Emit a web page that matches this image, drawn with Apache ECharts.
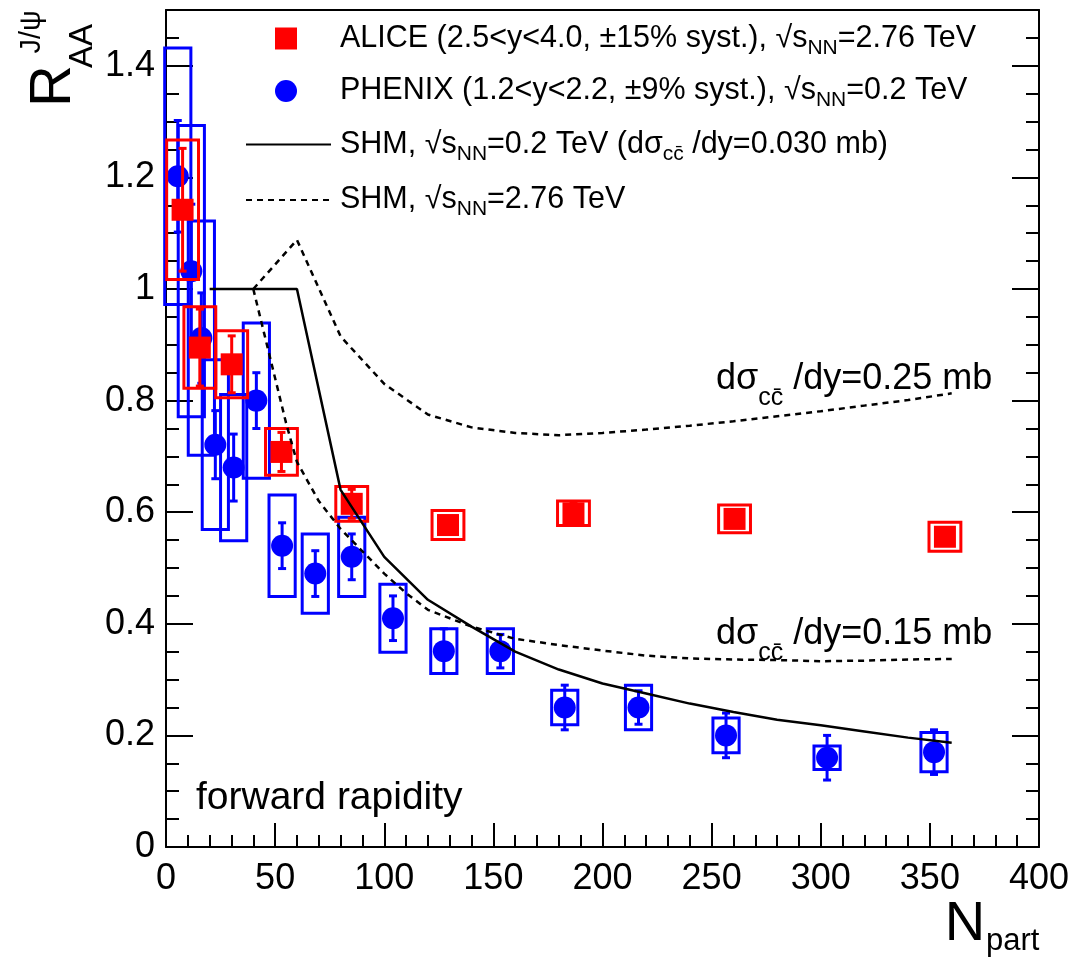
<!DOCTYPE html>
<html>
<head>
<meta charset="utf-8">
<script src="https://cdn.jsdelivr.net/npm/echarts@6/dist/echarts.min.js"></script>
<style>
html, body { margin: 0; padding: 0; background: #fff; }
#chart { width: 1092px; height: 962px; }
</style>
</head>
<body>
<div id="chart"></div>
<script>
// ALICE, Pb-Pb 2.76 TeV, forward
var aliceN    = [7.6, 15.5, 30.1, 52.9, 85.1, 129.2, 186.7, 260.5, 356.9];
var aliceR    = [1.142, 0.895, 0.865, 0.708, 0.615, 0.577, 0.598, 0.588, 0.556];
var aliceStat = [0.11, 0.069, 0.051, 0.035, 0.026, 0.015, 0.02, 0.015, 0.015];
var aliceSys  = [0.125, 0.073, 0.06, 0.042, 0.031, 0.026, 0.022, 0.025, 0.026];

// PHENIX, Au-Au 0.2 TeV, forward
var phenixN    = [5.4, 11.6, 16.2, 22.6, 31.0, 41.4, 53.2, 68.4, 85.1, 104.0, 127.3, 153.2, 182.7, 216.5, 256.6, 302.9, 351.9];
var phenixR    = [1.202, 1.032, 0.912, 0.721, 0.680, 0.800, 0.540, 0.490, 0.520, 0.410, 0.351, 0.351, 0.250, 0.250, 0.200, 0.160, 0.170];
var phenixStat = [0.10, 0.12, 0.081, 0.061, 0.06, 0.05, 0.041, 0.041, 0.041, 0.04, 0.04, 0.03, 0.04, 0.03, 0.04, 0.04, 0.04];
var phenixSys  = [0.23, 0.261, 0.21, 0.152, 0.131, 0.139, 0.091, 0.071, 0.071, 0.061, 0.04, 0.04, 0.031, 0.04, 0.031, 0.021, 0.035];

// SHM curves
var shmRhicN = [20, 40, 60, 80, 100, 120, 140, 160, 180, 200, 220, 240, 260, 280, 300, 320, 340, 360];
var shmRhicR = [1.0, 1.0, 1.0, 0.64, 0.52, 0.443, 0.395, 0.35, 0.318, 0.293, 0.275, 0.257, 0.242, 0.228, 0.218, 0.207, 0.196, 0.187];
var shmHighN = [40, 60, 80, 100, 120, 140, 160, 180, 200, 220, 240, 260, 280, 300, 320, 340, 360];
var shmHighR = [1.0, 1.088, 0.915, 0.83, 0.775, 0.752, 0.742, 0.738, 0.742, 0.748, 0.755, 0.763, 0.772, 0.781, 0.791, 0.801, 0.813];
var shmLowN  = [40, 45, 50, 55, 60, 70, 80, 90, 100, 110, 120, 140, 160, 180, 200, 220, 240, 260, 280, 300, 320, 340, 360];
var shmLowR  = [1.0, 0.92, 0.84, 0.76, 0.69, 0.62, 0.57, 0.53, 0.49, 0.455, 0.425, 0.395, 0.373, 0.362, 0.352, 0.343, 0.338, 0.336, 0.335, 0.333, 0.334, 0.336, 0.337];

var FONT = 'Liberation Sans';

function zip(){
    var cols = Array.prototype.slice.call(arguments);
    return cols[0].map(function(v, i){
        return cols.map(function(c){ return c[i]; });
    });
}

// box for systematic errors
function boxRender(color, hw){
    return function(params, api){
        var x = api.value(0), y = api.value(1), e = api.value(2);
        var p1 = api.coord([x - hw, y + e]);
        var p2 = api.coord([x + hw, y - e]);
        return {
            type: 'rect',
            shape: {x: p1[0], y: p1[1], width: p2[0] - p1[0], height: p2[1] - p1[1]},
            style: {fill: 'none', stroke: color, lineWidth: 3}
        };
    };
}
// stat error bar with caps
function errRender(color){
    return function(params, api){
        var x = api.value(0), y = api.value(1), e = api.value(2);
        var top = api.coord([x, y + e]);
        var bot = api.coord([x, y - e]);
        var c = 4;
        return {
            type: 'group',
            children: [
                {type: 'line', shape: {x1: top[0], y1: top[1], x2: bot[0], y2: bot[1]}, style: {stroke: color, lineWidth: 3}},
                {type: 'line', shape: {x1: top[0] - c, y1: top[1], x2: top[0] + c, y2: top[1]}, style: {stroke: color, lineWidth: 3}},
                {type: 'line', shape: {x1: bot[0] - c, y1: bot[1], x2: bot[0] + c, y2: bot[1]}, style: {stroke: color, lineWidth: 3}}
            ]
        };
    };
}

var subRich = {
    t: {fontFamily: FONT, fontSize: 30.5, lineHeight: 40, color: '#000'},
    sub: {fontFamily: FONT, fontSize: 21, verticalAlign: 'bottom', color: '#000'}
};
var legendText = {
    'ALICE': '{t|ALICE (2.5<y<4.0, \u00b115% syst.), \u221as}{sub|NN}{t|=2.76 TeV}',
    'PHENIX': '{t|PHENIX (1.2<y<2.2, \u00b19% syst.), \u221as}{sub|NN}{t|=0.2 TeV}',
    'SHM02': '{t|SHM, \u221as}{sub|NN}{t|=0.2 TeV (d\u03c3}{sub|cc\u0304}{t| /dy=0.030 mb)}',
    'SHM276': '{t|SHM, \u221as}{sub|NN}{t|=2.76 TeV}'
};
var annRich = {
    t: {fontFamily: FONT, fontSize: 36, lineHeight: 64, color: '#000'},
    sub: {fontFamily: FONT, fontSize: 25, verticalAlign: 'bottom', color: '#000'}
};

var chart = echarts.init(document.getElementById('chart'));
chart.setOption({
    backgroundColor: '#fff',
    animation: false,
    grid: {left: 166, top: 10, width: 873, height: 837},
    legend: [{
        data: ['ALICE', 'PHENIX'],
        orient: 'vertical',
        left: 275, top: 23, padding: 0,
        itemWidth: 22, itemHeight: 22, itemGap: 17,
        formatter: function(n){ return legendText[n]; },
        textStyle: {padding: [0, 0, 0, 38], rich: subRich}
    }, {
        data: ['SHM02', 'SHM276'],
        orient: 'vertical',
        left: 245, top: 129, padding: 0,
        itemWidth: 85, itemHeight: 22, itemGap: 20,
        itemStyle: {opacity: 0},
        formatter: function(n){ return legendText[n]; },
        textStyle: {padding: [0, 0, 0, 4], rich: subRich}
    }],
    xAxis: [{
        type: 'value', min: 0, max: 400, interval: 50,
        axisLine: {lineStyle: {color: '#000', width: 2}},
        axisTick: {inside: true, length: 24, lineStyle: {color: '#000', width: 2}},
        minorTick: {show: true, splitNumber: 5, length: 12, lineStyle: {color: '#000', width: 2}},
        axisLabel: {color: '#000', fontFamily: FONT, fontSize: 36, margin: 14},
        splitLine: {show: false}
    }, {
        type: 'value', min: 0, max: 400, position: 'top',
        axisLine: {onZero: false, lineStyle: {color: '#000', width: 2}},
        axisTick: {show: false}, axisLabel: {show: false}, splitLine: {show: false}
    }],
    yAxis: [{
        type: 'value', min: 0, max: 1.5, interval: 0.2,
        axisLine: {lineStyle: {color: '#000', width: 2}},
        axisTick: {inside: true, length: 27, lineStyle: {color: '#000', width: 2}},
        minorTick: {show: true, splitNumber: 4, length: 13, lineStyle: {color: '#000', width: 2}},
        axisLabel: {color: '#000', fontFamily: FONT, fontSize: 36, margin: 11, showMaxLabel: false},
        splitLine: {show: false}
    }, {
        type: 'value', min: 0, max: 1.5, interval: 0.2, position: 'right',
        axisLine: {onZero: false, lineStyle: {color: '#000', width: 2}},
        axisTick: {inside: true, length: 27, lineStyle: {color: '#000', width: 2}},
        minorTick: {show: true, splitNumber: 4, length: 13, lineStyle: {color: '#000', width: 2}},
        axisLabel: {show: false},
        splitLine: {show: false}
    }],
    series: [
        {name: 'PHENIX sys', type: 'custom', renderItem: boxRender('#0000ff', 6), data: zip(phenixN, phenixR, phenixSys), z: 2},
        {name: 'PHENIX stat', type: 'custom', renderItem: errRender('#0000ff'), data: zip(phenixN, phenixR, phenixStat), z: 3},
        {name: 'PHENIX', type: 'scatter', symbol: 'circle', symbolSize: 22, itemStyle: {color: '#0000ff', opacity: 1},
            data: zip(phenixN, phenixR), z: 4},
        {name: 'ALICE sys', type: 'custom', renderItem: boxRender('#ff0000', 7.3), data: zip(aliceN, aliceR, aliceSys), z: 5},
        {name: 'ALICE stat', type: 'custom', renderItem: errRender('#ff0000'), data: zip(aliceN, aliceR, aliceStat), z: 6},
        {name: 'ALICE', type: 'scatter', symbol: 'rect', symbolSize: 22, itemStyle: {color: '#ff0000', opacity: 1},
            data: zip(aliceN, aliceR), z: 7},
        {name: 'SHM02', type: 'line', symbol: 'none', data: zip(shmRhicN, shmRhicR),
            lineStyle: {color: '#000', width: 2.5}, itemStyle: {color: '#000'}, z: 8},
        {name: 'SHM276', type: 'line', symbol: 'none', data: zip(shmHighN, shmHighR),
            lineStyle: {color: '#000', width: 2.5, type: [6, 5]}, itemStyle: {color: '#000'}, z: 8},
        {name: 'SHM276', type: 'line', symbol: 'none', data: zip(shmLowN, shmLowR),
            lineStyle: {color: '#000', width: 2.5, type: [6, 5]}, itemStyle: {color: '#000'}, z: 8}
    ],
    graphic: [
        {type: 'text', x: 54, y: 86, rotation: Math.PI / 2,
            style: {text: 'R', fontFamily: FONT, fontSize: 58, fill: '#000', align: 'center', verticalAlign: 'middle'}},
        {type: 'text', x: 83, y: 46, rotation: Math.PI / 2,
            style: {text: 'AA', fontFamily: FONT, fontSize: 33, fill: '#000', align: 'center', verticalAlign: 'middle'}},
        {type: 'text', x: 32, y: 32, rotation: Math.PI / 2,
            style: {text: 'J/\u03c8', fontFamily: FONT, fontSize: 29, fill: '#000', align: 'center', verticalAlign: 'middle'}},
        {type: 'text', x: 965, y: 925,
            style: {text: 'N', fontFamily: FONT, fontSize: 56, fill: '#000', align: 'center', verticalAlign: 'middle'}},
        {type: 'text', x: 986, y: 941,
            style: {text: 'part', fontFamily: FONT, fontSize: 31, fill: '#000', align: 'left', verticalAlign: 'middle'}},
        {type: 'text', x: 196, y: 798,
            style: {text: 'forward rapidity', fontFamily: FONT, fontSize: 39, fill: '#000', align: 'left', verticalAlign: 'middle'}},
        {type: 'text', x: 716, y: 379,
            style: {text: '{t|d\u03c3}{sub|cc\u0304}{t| /dy=0.25 mb}', fontFamily: FONT, align: 'left', verticalAlign: 'middle', rich: annRich}},
        {type: 'text', x: 716, y: 634,
            style: {text: '{t|d\u03c3}{sub|cc\u0304}{t| /dy=0.15 mb}', fontFamily: FONT, align: 'left', verticalAlign: 'middle', rich: annRich}}
    ]
});
</script>
</body>
</html>
